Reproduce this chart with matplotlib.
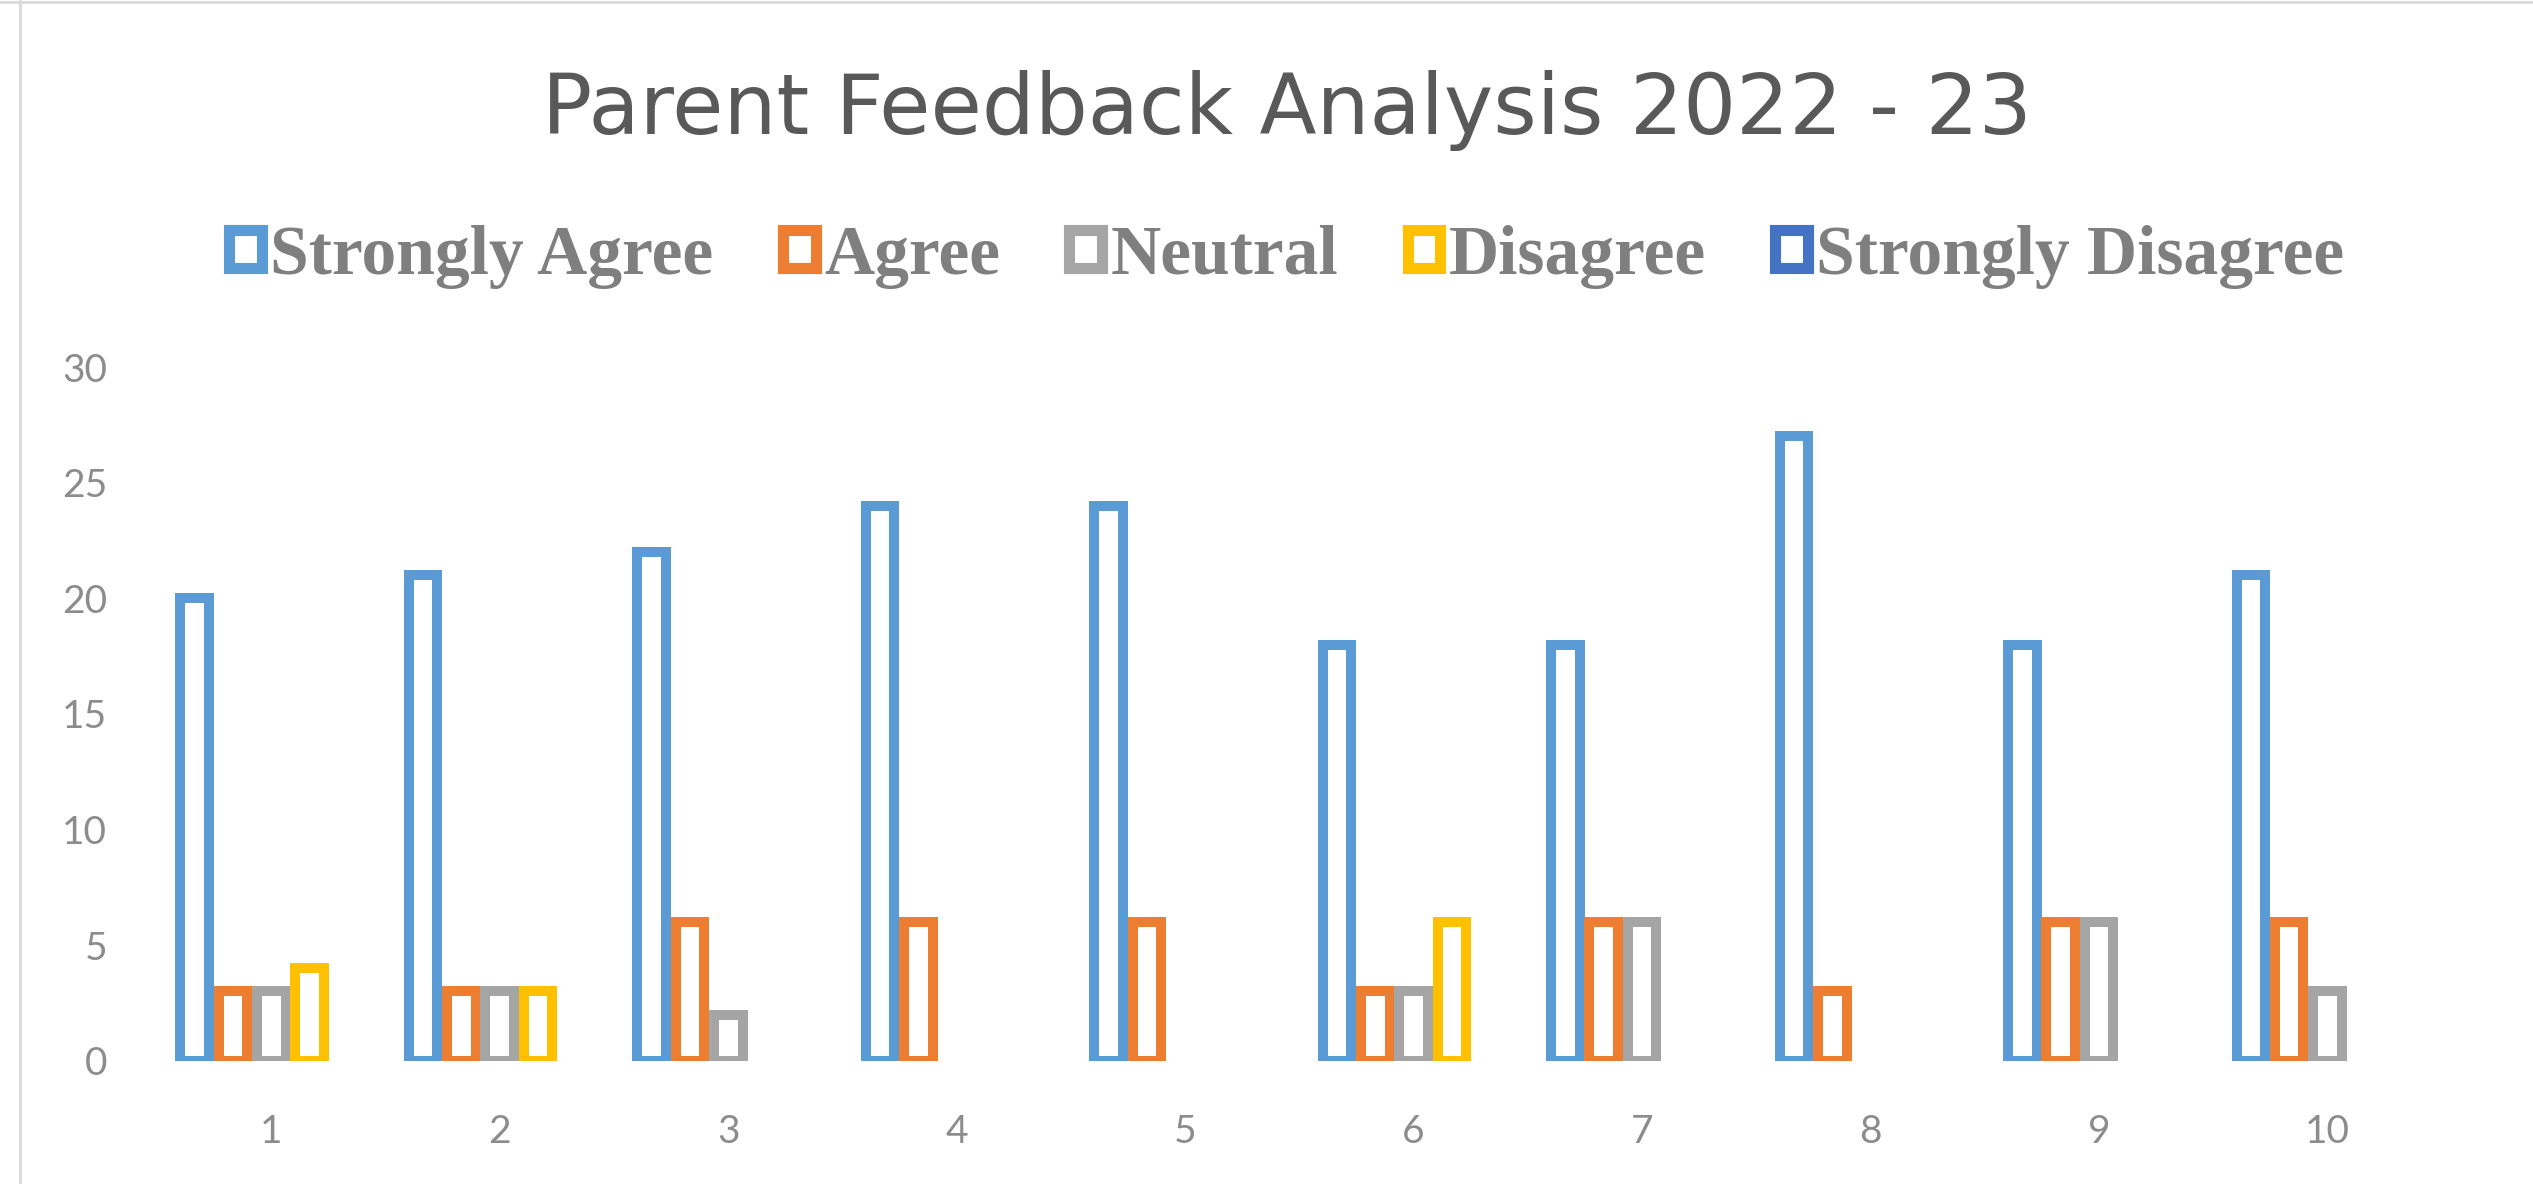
import matplotlib.pyplot as plt
import numpy as np
from matplotlib.patches import Patch
from matplotlib.lines import Line2D

# datos
preguntas = ['1', '2', '3', '4', '5', '6', '7', '8', '9', '10']
strongly_agree = [20, 21, 22, 24, 24, 18, 18, 27, 18, 21]
agree = [3, 3, 6, 6, 6, 3, 6, 3, 6, 6]
neutral = [3, 3, 2, 0, 0, 3, 6, 0, 6, 3]
disagree = [4, 3, 0, 0, 0, 6, 0, 0, 0, 0]
strongly_disagree = [0, 0, 0, 0, 0, 0, 0, 0, 0, 0]

series = ['Strongly Agree', 'Agree', 'Neutral', 'Disagree', 'Strongly Disagree']
colores = ['#5B9BD5', '#ED7D31', '#A5A5A5', '#FFC000', '#4472C4']
valores = [strongly_agree, agree, neutral, disagree, strongly_disagree]

fig = plt.figure(figsize=(25.33, 11.84), dpi=100)
ax = fig.add_axes([0.062, 0.104, 0.902, 0.586])

x = np.arange(1, len(preguntas) + 1)
paso = 0.168          # distancia entre barras de un grupo
borde = 7.2           # grosor del borde en puntos
ancho = paso - 0.043  # el borde ocupa parte del paso
for i, (vals, col) in enumerate(zip(valores, colores)):
    pos = x + (i - 2) * paso
    for p, v in zip(pos, vals):
        if v > 0:
            ax.bar(p, v, width=ancho, facecolor='white', edgecolor=col,
                   linewidth=borde)

ax.set_xlim(0.5, 10.5)
ax.set_ylim(0, 30)
ax.set_yticks(range(0, 31, 5))
ax.set_xticks(x)
ax.set_xticklabels(preguntas)
for s in ax.spines.values():
    s.set_visible(False)
ax.tick_params(length=0, labelsize=28, labelcolor='#8C8C8C')
ax.tick_params(axis='x', pad=38)
ax.tick_params(axis='y', pad=36)
for lab in ax.get_xticklabels() + ax.get_yticklabels():
    lab.set_fontfamily('Lato')

fig.text(0.508, 0.907, 'Parent Feedback Analysis 2022 - 23', ha='center', va='center',
         fontsize=60, color='#595959', fontfamily='DejaVu Sans')

handles = [Patch(facecolor='white', edgecolor=c, linewidth=8) for c in colores]
fig.legend(handles, series, loc='center', bbox_to_anchor=(0.508, 0.783), ncol=5,
           frameon=False, handlelength=0.47, handleheight=0.47, handletextpad=0.12,
           columnspacing=1.0,
           prop={'family': 'Liberation Serif', 'weight': 'bold', 'size': 50})
for t in fig.legends[0].get_texts():
    t.set_color('#7F7F7F')

# borde del grafico
fig.add_artist(Line2D([0.008, 0.008], [0, 1], color='#D9D9D9', linewidth=2))
fig.add_artist(Line2D([0, 1], [0.998, 0.998], color='#D9D9D9', linewidth=2))

plt.savefig('out.png')
